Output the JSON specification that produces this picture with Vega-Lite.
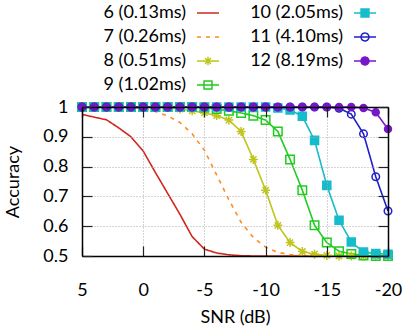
{
  "$schema": "https://vega.github.io/schema/vega-lite/v6.json",
  "width": 306,
  "height": 149,
  "autosize": {"type": "none"},
  "padding": {"left": 82, "top": 107, "right": 16, "bottom": 75},
  "config": {
    "font": "Lato",
    "view": {"stroke": null},
    "axis": {
      "domainColor": "black",
      "domainWidth": 1.5,
      "tickColor": "#222",
      "tickWidth": 1.2,
      "labelFontSize": 18,
      "labelColor": "black",
      "labelFont": "Lato",
      "titleFont": "Lato",
      "titleFontSize": 18,
      "titleFontWeight": "normal",
      "titleColor": "black",
      "gridColor": "#aaaaaa",
      "gridDash": [1, 2],
      "gridWidth": 1
    }
  },
  "data": {
    "values": [
      {"series": "6 (0.13ms)", "snr": 5, "acc": 0.975},
      {"series": "6 (0.13ms)", "snr": 4, "acc": 0.966},
      {"series": "6 (0.13ms)", "snr": 3, "acc": 0.957},
      {"series": "6 (0.13ms)", "snr": 2, "acc": 0.93},
      {"series": "6 (0.13ms)", "snr": 1, "acc": 0.9},
      {"series": "6 (0.13ms)", "snr": 0, "acc": 0.852},
      {"series": "6 (0.13ms)", "snr": -1, "acc": 0.78},
      {"series": "6 (0.13ms)", "snr": -2, "acc": 0.71},
      {"series": "6 (0.13ms)", "snr": -3, "acc": 0.64},
      {"series": "6 (0.13ms)", "snr": -4, "acc": 0.565},
      {"series": "6 (0.13ms)", "snr": -5, "acc": 0.523},
      {"series": "6 (0.13ms)", "snr": -6, "acc": 0.51},
      {"series": "6 (0.13ms)", "snr": -7, "acc": 0.504},
      {"series": "6 (0.13ms)", "snr": -8, "acc": 0.501},
      {"series": "6 (0.13ms)", "snr": -9, "acc": 0.5},
      {"series": "6 (0.13ms)", "snr": -10, "acc": 0.5},
      {"series": "6 (0.13ms)", "snr": -11, "acc": 0.5},
      {"series": "6 (0.13ms)", "snr": -12, "acc": 0.5},
      {"series": "6 (0.13ms)", "snr": -13, "acc": 0.5},
      {"series": "6 (0.13ms)", "snr": -14, "acc": 0.5},
      {"series": "6 (0.13ms)", "snr": -15, "acc": 0.5},
      {"series": "6 (0.13ms)", "snr": -16, "acc": 0.5},
      {"series": "6 (0.13ms)", "snr": -17, "acc": 0.5},
      {"series": "6 (0.13ms)", "snr": -18, "acc": 0.5},
      {"series": "6 (0.13ms)", "snr": -19, "acc": 0.5},
      {"series": "6 (0.13ms)", "snr": -20, "acc": 0.5},

      {"series": "7 (0.26ms)", "snr": 5, "acc": 1},
      {"series": "7 (0.26ms)", "snr": 4, "acc": 1},
      {"series": "7 (0.26ms)", "snr": 3, "acc": 1},
      {"series": "7 (0.26ms)", "snr": 2, "acc": 1},
      {"series": "7 (0.26ms)", "snr": 1, "acc": 0.999},
      {"series": "7 (0.26ms)", "snr": 0, "acc": 0.995},
      {"series": "7 (0.26ms)", "snr": -1, "acc": 0.985},
      {"series": "7 (0.26ms)", "snr": -2, "acc": 0.97},
      {"series": "7 (0.26ms)", "snr": -3, "acc": 0.948},
      {"series": "7 (0.26ms)", "snr": -4, "acc": 0.91},
      {"series": "7 (0.26ms)", "snr": -5, "acc": 0.855},
      {"series": "7 (0.26ms)", "snr": -6, "acc": 0.772},
      {"series": "7 (0.26ms)", "snr": -7, "acc": 0.689},
      {"series": "7 (0.26ms)", "snr": -8, "acc": 0.613},
      {"series": "7 (0.26ms)", "snr": -9, "acc": 0.562},
      {"series": "7 (0.26ms)", "snr": -10, "acc": 0.53},
      {"series": "7 (0.26ms)", "snr": -11, "acc": 0.512},
      {"series": "7 (0.26ms)", "snr": -12, "acc": 0.505},
      {"series": "7 (0.26ms)", "snr": -13, "acc": 0.501},
      {"series": "7 (0.26ms)", "snr": -14, "acc": 0.5},
      {"series": "7 (0.26ms)", "snr": -15, "acc": 0.5},
      {"series": "7 (0.26ms)", "snr": -16, "acc": 0.5},
      {"series": "7 (0.26ms)", "snr": -17, "acc": 0.5},
      {"series": "7 (0.26ms)", "snr": -18, "acc": 0.5},
      {"series": "7 (0.26ms)", "snr": -19, "acc": 0.5},
      {"series": "7 (0.26ms)", "snr": -20, "acc": 0.5},

      {"series": "8 (0.51ms)", "snr": 5, "acc": 1},
      {"series": "8 (0.51ms)", "snr": 4, "acc": 1},
      {"series": "8 (0.51ms)", "snr": 3, "acc": 1},
      {"series": "8 (0.51ms)", "snr": 2, "acc": 1},
      {"series": "8 (0.51ms)", "snr": 1, "acc": 1},
      {"series": "8 (0.51ms)", "snr": 0, "acc": 1},
      {"series": "8 (0.51ms)", "snr": -1, "acc": 1},
      {"series": "8 (0.51ms)", "snr": -2, "acc": 0.998},
      {"series": "8 (0.51ms)", "snr": -3, "acc": 0.993},
      {"series": "8 (0.51ms)", "snr": -4, "acc": 0.987},
      {"series": "8 (0.51ms)", "snr": -5, "acc": 0.98},
      {"series": "8 (0.51ms)", "snr": -6, "acc": 0.971},
      {"series": "8 (0.51ms)", "snr": -7, "acc": 0.956},
      {"series": "8 (0.51ms)", "snr": -8, "acc": 0.918},
      {"series": "8 (0.51ms)", "snr": -9, "acc": 0.824},
      {"series": "8 (0.51ms)", "snr": -10, "acc": 0.721},
      {"series": "8 (0.51ms)", "snr": -11, "acc": 0.603},
      {"series": "8 (0.51ms)", "snr": -12, "acc": 0.545},
      {"series": "8 (0.51ms)", "snr": -13, "acc": 0.515},
      {"series": "8 (0.51ms)", "snr": -14, "acc": 0.506},
      {"series": "8 (0.51ms)", "snr": -15, "acc": 0.502},
      {"series": "8 (0.51ms)", "snr": -16, "acc": 0.5},
      {"series": "8 (0.51ms)", "snr": -17, "acc": 0.5},
      {"series": "8 (0.51ms)", "snr": -18, "acc": 0.5},
      {"series": "8 (0.51ms)", "snr": -19, "acc": 0.5},
      {"series": "8 (0.51ms)", "snr": -20, "acc": 0.5},

      {"series": "9 (1.02ms)", "snr": 5, "acc": 1},
      {"series": "9 (1.02ms)", "snr": 4, "acc": 1},
      {"series": "9 (1.02ms)", "snr": 3, "acc": 1},
      {"series": "9 (1.02ms)", "snr": 2, "acc": 1},
      {"series": "9 (1.02ms)", "snr": 1, "acc": 1},
      {"series": "9 (1.02ms)", "snr": 0, "acc": 1},
      {"series": "9 (1.02ms)", "snr": -1, "acc": 1},
      {"series": "9 (1.02ms)", "snr": -2, "acc": 1},
      {"series": "9 (1.02ms)", "snr": -3, "acc": 1},
      {"series": "9 (1.02ms)", "snr": -4, "acc": 1},
      {"series": "9 (1.02ms)", "snr": -5, "acc": 0.998},
      {"series": "9 (1.02ms)", "snr": -6, "acc": 0.993},
      {"series": "9 (1.02ms)", "snr": -7, "acc": 0.987},
      {"series": "9 (1.02ms)", "snr": -8, "acc": 0.98},
      {"series": "9 (1.02ms)", "snr": -9, "acc": 0.971},
      {"series": "9 (1.02ms)", "snr": -10, "acc": 0.956},
      {"series": "9 (1.02ms)", "snr": -11, "acc": 0.918},
      {"series": "9 (1.02ms)", "snr": -12, "acc": 0.824},
      {"series": "9 (1.02ms)", "snr": -13, "acc": 0.721},
      {"series": "9 (1.02ms)", "snr": -14, "acc": 0.603},
      {"series": "9 (1.02ms)", "snr": -15, "acc": 0.545},
      {"series": "9 (1.02ms)", "snr": -16, "acc": 0.516},
      {"series": "9 (1.02ms)", "snr": -17, "acc": 0.507},
      {"series": "9 (1.02ms)", "snr": -18, "acc": 0.502},
      {"series": "9 (1.02ms)", "snr": -19, "acc": 0.5},
      {"series": "9 (1.02ms)", "snr": -20, "acc": 0.5},

      {"series": "10 (2.05ms)", "snr": 5, "acc": 1},
      {"series": "10 (2.05ms)", "snr": 4, "acc": 1},
      {"series": "10 (2.05ms)", "snr": 3, "acc": 1},
      {"series": "10 (2.05ms)", "snr": 2, "acc": 1},
      {"series": "10 (2.05ms)", "snr": 1, "acc": 1},
      {"series": "10 (2.05ms)", "snr": 0, "acc": 1},
      {"series": "10 (2.05ms)", "snr": -1, "acc": 1},
      {"series": "10 (2.05ms)", "snr": -2, "acc": 1},
      {"series": "10 (2.05ms)", "snr": -3, "acc": 1},
      {"series": "10 (2.05ms)", "snr": -4, "acc": 1},
      {"series": "10 (2.05ms)", "snr": -5, "acc": 1},
      {"series": "10 (2.05ms)", "snr": -6, "acc": 1},
      {"series": "10 (2.05ms)", "snr": -7, "acc": 1},
      {"series": "10 (2.05ms)", "snr": -8, "acc": 1},
      {"series": "10 (2.05ms)", "snr": -9, "acc": 1},
      {"series": "10 (2.05ms)", "snr": -10, "acc": 1},
      {"series": "10 (2.05ms)", "snr": -11, "acc": 0.997},
      {"series": "10 (2.05ms)", "snr": -12, "acc": 0.99},
      {"series": "10 (2.05ms)", "snr": -13, "acc": 0.969},
      {"series": "10 (2.05ms)", "snr": -14, "acc": 0.888},
      {"series": "10 (2.05ms)", "snr": -15, "acc": 0.737},
      {"series": "10 (2.05ms)", "snr": -16, "acc": 0.62},
      {"series": "10 (2.05ms)", "snr": -17, "acc": 0.547},
      {"series": "10 (2.05ms)", "snr": -18, "acc": 0.513},
      {"series": "10 (2.05ms)", "snr": -19, "acc": 0.508},
      {"series": "10 (2.05ms)", "snr": -20, "acc": 0.506},

      {"series": "11 (4.10ms)", "snr": 5, "acc": 1},
      {"series": "11 (4.10ms)", "snr": 4, "acc": 1},
      {"series": "11 (4.10ms)", "snr": 3, "acc": 1},
      {"series": "11 (4.10ms)", "snr": 2, "acc": 1},
      {"series": "11 (4.10ms)", "snr": 1, "acc": 1},
      {"series": "11 (4.10ms)", "snr": 0, "acc": 1},
      {"series": "11 (4.10ms)", "snr": -1, "acc": 1},
      {"series": "11 (4.10ms)", "snr": -2, "acc": 1},
      {"series": "11 (4.10ms)", "snr": -3, "acc": 1},
      {"series": "11 (4.10ms)", "snr": -4, "acc": 1},
      {"series": "11 (4.10ms)", "snr": -5, "acc": 1},
      {"series": "11 (4.10ms)", "snr": -6, "acc": 1},
      {"series": "11 (4.10ms)", "snr": -7, "acc": 1},
      {"series": "11 (4.10ms)", "snr": -8, "acc": 1},
      {"series": "11 (4.10ms)", "snr": -9, "acc": 1},
      {"series": "11 (4.10ms)", "snr": -10, "acc": 1},
      {"series": "11 (4.10ms)", "snr": -11, "acc": 1},
      {"series": "11 (4.10ms)", "snr": -12, "acc": 1},
      {"series": "11 (4.10ms)", "snr": -13, "acc": 1},
      {"series": "11 (4.10ms)", "snr": -14, "acc": 1},
      {"series": "11 (4.10ms)", "snr": -15, "acc": 1},
      {"series": "11 (4.10ms)", "snr": -16, "acc": 0.996},
      {"series": "11 (4.10ms)", "snr": -17, "acc": 0.976},
      {"series": "11 (4.10ms)", "snr": -18, "acc": 0.91},
      {"series": "11 (4.10ms)", "snr": -19, "acc": 0.766},
      {"series": "11 (4.10ms)", "snr": -20, "acc": 0.651},

      {"series": "12 (8.19ms)", "snr": 5, "acc": 1},
      {"series": "12 (8.19ms)", "snr": 4, "acc": 1},
      {"series": "12 (8.19ms)", "snr": 3, "acc": 1},
      {"series": "12 (8.19ms)", "snr": 2, "acc": 1},
      {"series": "12 (8.19ms)", "snr": 1, "acc": 1},
      {"series": "12 (8.19ms)", "snr": 0, "acc": 1},
      {"series": "12 (8.19ms)", "snr": -1, "acc": 1},
      {"series": "12 (8.19ms)", "snr": -2, "acc": 1},
      {"series": "12 (8.19ms)", "snr": -3, "acc": 1},
      {"series": "12 (8.19ms)", "snr": -4, "acc": 1},
      {"series": "12 (8.19ms)", "snr": -5, "acc": 1},
      {"series": "12 (8.19ms)", "snr": -6, "acc": 1},
      {"series": "12 (8.19ms)", "snr": -7, "acc": 1},
      {"series": "12 (8.19ms)", "snr": -8, "acc": 1},
      {"series": "12 (8.19ms)", "snr": -9, "acc": 1},
      {"series": "12 (8.19ms)", "snr": -10, "acc": 1},
      {"series": "12 (8.19ms)", "snr": -11, "acc": 1},
      {"series": "12 (8.19ms)", "snr": -12, "acc": 1},
      {"series": "12 (8.19ms)", "snr": -13, "acc": 1},
      {"series": "12 (8.19ms)", "snr": -14, "acc": 1},
      {"series": "12 (8.19ms)", "snr": -15, "acc": 1},
      {"series": "12 (8.19ms)", "snr": -16, "acc": 1},
      {"series": "12 (8.19ms)", "snr": -17, "acc": 1},
      {"series": "12 (8.19ms)", "snr": -18, "acc": 0.997},
      {"series": "12 (8.19ms)", "snr": -19, "acc": 0.982},
      {"series": "12 (8.19ms)", "snr": -20, "acc": 0.926}
    ]
  },
  "layer": [
    {
      "mark": {"type": "line", "strokeWidth": 1.6},
      "encoding": {
        "x": {
          "field": "snr", "type": "quantitative",
          "scale": {"domain": [5, -20], "nice": false},
          "axis": {
            "orient": "bottom", "values": [5, 0, -5, -10, -15, -20],
            "labelExpr": "'' + datum.value",
            "title": "SNR (dB)", "tickSize": -10, "labelPadding": 35, "titlePadding": 9,
            "labelFlush": false, "zindex": 1, "grid": true
          }
        },
        "y": {
          "field": "acc", "type": "quantitative",
          "scale": {"domain": [0.5, 1], "nice": false, "zero": false},
          "axis": {
            "orient": "left", "values": [0.5, 0.6, 0.7, 0.8, 0.9, 1],
            "labelExpr": "'' + datum.value",
            "title": "Accuracy", "tickSize": -10, "labelPadding": 24, "titlePadding": 20,
            "zindex": 1, "grid": true
          }
        },
        "stroke": {
          "field": "series", "type": "nominal",
          "scale": {
            "domain": ["6 (0.13ms)", "7 (0.26ms)", "8 (0.51ms)", "9 (1.02ms)", "10 (2.05ms)", "11 (4.10ms)", "12 (8.19ms)"],
            "range": ["#d0281e", "#ff8c1a", "#bfc51a", "#1fcc1f", "#17bccb", "#2020c8", "#7817c8"]
          },
          "legend": {
            "orient": "none", "legendX": 114, "legendY": -106,
            "columns": 2, "title": null, "padding": 0,
            "symbolSize": 484, "symbolStrokeWidth": 1.5,
            "labelFontSize": 18, "labelFont": "Lato", "labelColor": "black",
            "labelAlign": "right", "labelOffset": -34, "labelLimit": 200,
            "rowPadding": 3, "columnPadding": 28,
            "encode": {
              "symbols": {
                "update": {
                  "shape": {"signal": "datum.value === '8 (0.51ms)' ? 'M-1,0H1M-0.38,0H0.38M0,-0.38V0.38M-0.27,-0.27L0.27,0.27M-0.27,0.27L0.27,-0.27' : (datum.value === '9 (1.02ms)' || datum.value === '10 (2.05ms)') ? 'M-1,0H1M-0.36,-0.36H0.36V0.36H-0.36Z' : (datum.value === '11 (4.10ms)' || datum.value === '12 (8.19ms)') ? 'M-1,0H1M0.36,0A0.36,0.36,0,1,1,-0.36,0A0.36,0.36,0,1,1,0.36,0Z' : 'M-1,0H1'"},
                  "fill": {"signal": "datum.value === '10 (2.05ms)' ? '#17bccb' : datum.value === '12 (8.19ms)' ? '#7817c8' : 'transparent'"},
                  "strokeDash": {"signal": "datum.value === '7 (0.26ms)' ? [4, 5] : [1, 0]"},
                  "opacity": {"value": 1}
                }
              }
            }
          }
        },
        "strokeDash": {
          "field": "series", "type": "nominal",
          "scale": {
            "domain": ["6 (0.13ms)", "7 (0.26ms)", "8 (0.51ms)", "9 (1.02ms)", "10 (2.05ms)", "11 (4.10ms)", "12 (8.19ms)"],
            "range": [[1, 0], [4, 5], [1, 0], [1, 0], [1, 0], [1, 0], [1, 0]]
          },
          "legend": null
        }
      }
    },
    {
      "transform": [{"filter": "datum.series !== '6 (0.13ms)' && datum.series !== '7 (0.26ms)'"}],
      "mark": {"type": "point", "strokeWidth": 1.5, "opacity": 1, "fillOpacity": 1, "strokeOpacity": 1},
      "encoding": {
        "x": {
          "field": "snr", "type": "quantitative",
          "axis": {"orient": "top", "labels": false, "title": null, "tickSize": -10, "grid": false, "values": [5, 0, -5, -10, -15, -20], "zindex": 1}
        },
        "y": {
          "field": "acc", "type": "quantitative",
          "axis": {"orient": "right", "labels": false, "title": null, "tickSize": -10, "grid": false, "values": [0.5, 0.6, 0.7, 0.8, 0.9, 1], "zindex": 1}
        },
        "stroke": {"field": "series", "type": "nominal", "legend": null},
        "shape": {
          "field": "series", "type": "nominal",
          "scale": {
            "domain": ["8 (0.51ms)", "9 (1.02ms)", "10 (2.05ms)", "11 (4.10ms)", "12 (8.19ms)"],
            "range": ["M-1,0H1M0,-1V1M-0.7,-0.7L0.7,0.7M-0.7,0.7L0.7,-0.7", "square", "square", "circle", "circle"]
          },
          "legend": null
        },
        "fill": {
          "field": "series", "type": "nominal",
          "scale": {
            "domain": ["8 (0.51ms)", "9 (1.02ms)", "10 (2.05ms)", "11 (4.10ms)", "12 (8.19ms)"],
            "range": ["transparent", "transparent", "#17bccb", "transparent", "#7817c8"]
          },
          "legend": null
        },
        "size": {
          "field": "series", "type": "nominal",
          "scale": {
            "domain": ["8 (0.51ms)", "9 (1.02ms)", "10 (2.05ms)", "11 (4.10ms)", "12 (8.19ms)"],
            "range": [80, 49, 72, 56, 64]
          },
          "legend": null
        }
      }
    }
  ],
  "resolve": {"axis": {"x": "independent", "y": "independent"}}
}
